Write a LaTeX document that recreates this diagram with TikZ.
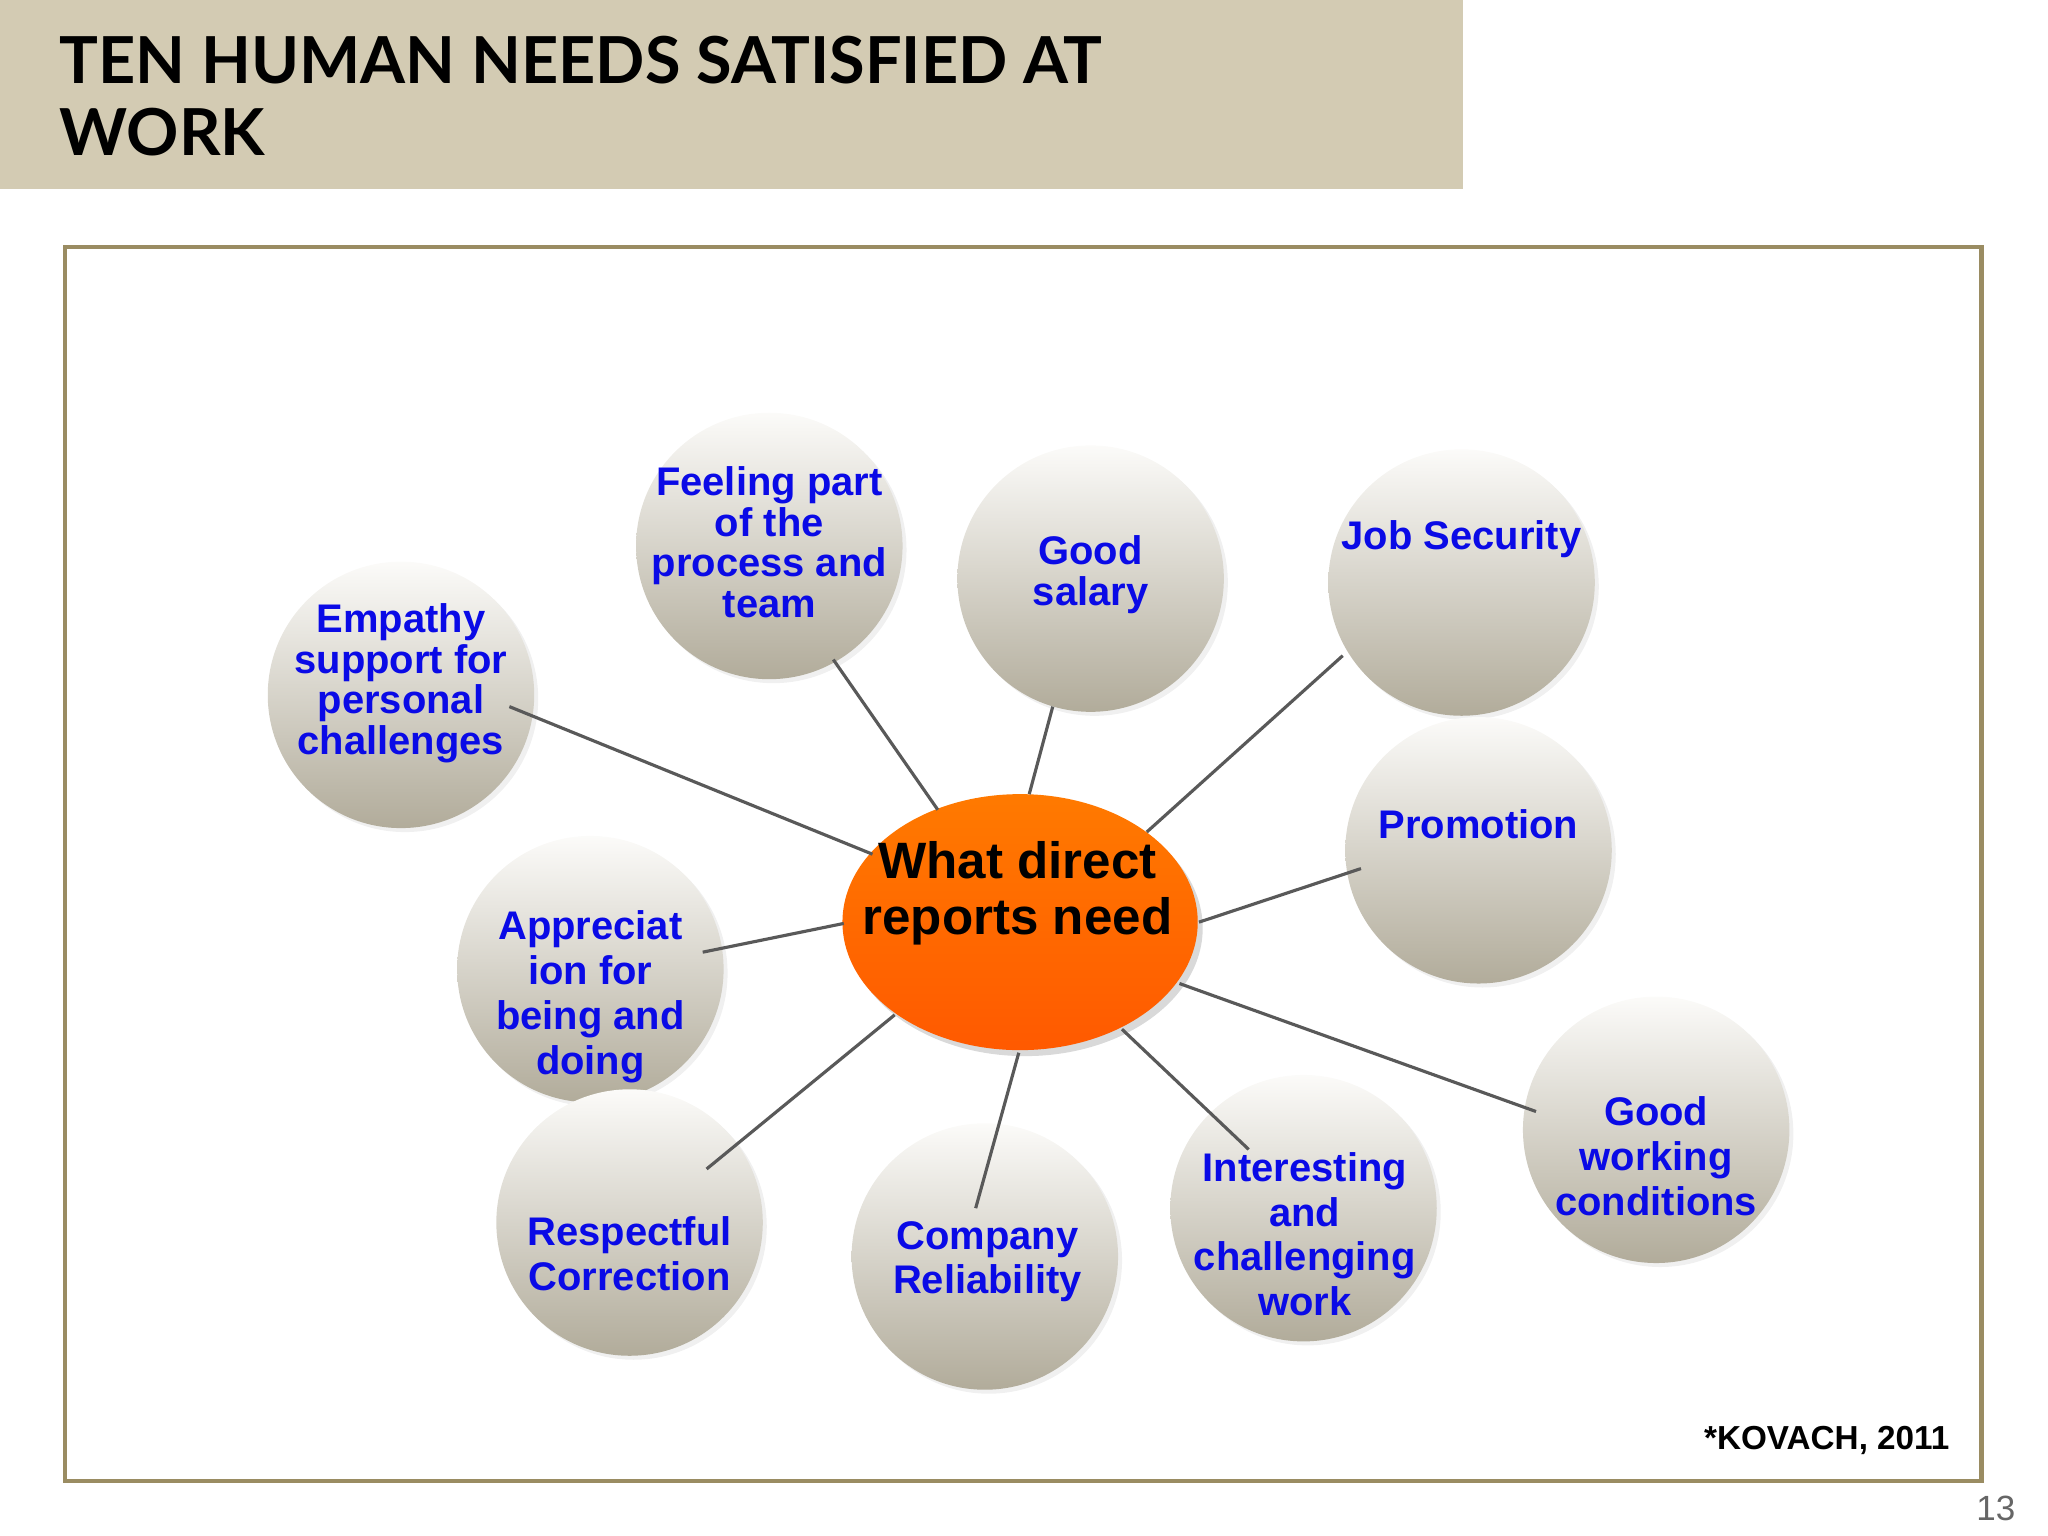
\documentclass[tikz,border=0pt]{standalone}
\usepackage{fontspec}
\setmainfont{Liberation Sans}
\newfontfamily\titlefont{Lato}
\usetikzlibrary{shapes.geometric,shadows}
\definecolor{hdr}{HTML}{D3CBB3}
\definecolor{frm}{HTML}{9A8C62}
\definecolor{txtblue}{HTML}{0A0AE6}
\tikzset{
 need/.style={circle,minimum size=204*0.0131cm,inner sep=0pt,top color=white!92!hdr,bottom color=hdr!80!black!90,shading angle=0,
   drop shadow={opacity=0.12,shadow xshift=0.04cm,shadow yshift=-0.04cm}},
 lbl/.style={font=\fontsize{11.4}{11.6}\selectfont\bfseries,text=txtblue,align=center,inner sep=0pt},
 lblw/.style={font=\fontsize{11.4}{12.8}\selectfont\bfseries,text=txtblue,align=center,inner sep=0pt},
 link/.style={draw=black!65,line width=0.9pt}
}
\begin{document}
\begin{tikzpicture}[x=0.0131cm,y=-0.0131cm]
\useasboundingbox (0,0) rectangle (1568,1176);
\fill[hdr] (0,0) rectangle (1120,145);
\node[anchor=north west,align=left,font=\titlefont\fontsize{18.5}{20.5}\selectfont\bfseries,inner sep=0pt] (title) at (45,27) {TEN HUMAN NEEDS SATISFIED AT\\WORK};
\draw[frm,line width=1.2pt] (50,189) rectangle (1517,1134);

\node[ellipse,minimum width=272*0.0131cm,minimum height=196*0.0131cm,inner sep=0pt,top color=orange!90!red!95!yellow,bottom color=orange!70!red,
 drop shadow={opacity=0.3,shadow xshift=0.05cm,shadow yshift=-0.06cm}] (c) at (781,706) {};
\node[font=\fontsize{14.6}{16}\selectfont\bfseries,align=center,inner sep=0pt] (ct) at (779,684) {What direct\\reports need};

\node[need] (n1) at (307,532) {};  \node[lbl] (t1) at (307,523) {Empathy\\support for\\personal\\challenges};
\node[need] (n2) at (589,418) {};  \node[lbl] (t2) at (589,415) {Feeling part\\of the\\process and\\team};
\node[need] (n3) at (835,443) {};  \node[lbl] (t3) at (835,440) {Good\\salary};
\node[need] (n4) at (1119,446) {}; \node[lbl] (t4) at (1119,413) {Job Security};
\node[need] (n5) at (1132,651) {}; \node[lbl] (t5) at (1132,631) {Promotion};
\node[need] (n6) at (452,742) {};  \node[lblw] (t6) at (452,763) {Appreciat\\ion for\\being and\\doing};
\node[need] (n7) at (482,936) {};  \node[lblw] (t7) at (482,960) {Respectful\\Correction};
\node[need] (n8) at (754,962) {};  \node[lblw] (t8) at (756,966) {Company\\Reliability};
\node[need] (n9) at (998,925) {};  \node[lblw] (t9) at (999,945) {Interesting\\and\\challenging\\work};
\node[need] (n10) at (1268,865) {}; \node[lblw] (t10) at (1268,885) {Good\\working\\conditions};

\coordinate (e1) at (390,541); \coordinate (s1) at (668,654);
\coordinate (e2) at (638,505); \coordinate (s2) at (718,620);
\coordinate (e3) at (806,541); \coordinate (s3) at (788,608);
\coordinate (e4) at (1028,502); \coordinate (s4) at (878,637);
\coordinate (e5) at (1042,665); \coordinate (s5) at (918,706);
\coordinate (e6) at (538,729); \coordinate (s6) at (646,707);
\coordinate (e7) at (541,895); \coordinate (s7) at (685,777);
\coordinate (e8) at (747,925); \coordinate (s8) at (780,806);
\coordinate (e9) at (956,880); \coordinate (s9) at (859,788);
\coordinate (e10) at (1176,851); \coordinate (s10) at (903,753);
\foreach \i in {1,...,10} {\draw[link] (s\i) -- (e\i);}

\node[anchor=east,font=\fontsize{9.5}{11}\selectfont\bfseries] (src) at (1502,1103) {*KOVACH, 2011};
\node[font=\fontsize{10}{12}\selectfont,text=black!60] (pg) at (1528,1155) {13};
\end{tikzpicture}
\end{document}
